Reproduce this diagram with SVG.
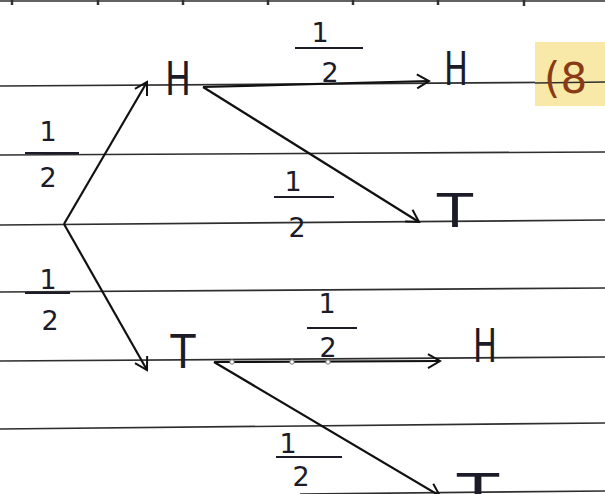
<svg xmlns="http://www.w3.org/2000/svg" width="605" height="494" viewBox="0 0 605 494">
<style>
.paper{stroke:#2e2e2e;stroke-width:1.7;fill:none}
.tick{stroke:#333;stroke-width:2.5}
.edge{stroke:#111;stroke-width:2.2;fill:none}
.lbl{font-family:"DejaVu Sans","Liberation Sans",sans-serif;fill:#1c1c28;text-anchor:middle}
.num{font-size:27px}
.node{font-size:46px}
.bar{stroke:#1c1c28;stroke-width:2}
</style>
<defs>
<marker id="arr" markerUnits="userSpaceOnUse" markerWidth="18" markerHeight="18" viewBox="0 0 18 18" refX="15" refY="9" orient="auto">
<path d="M3,2 L15,9 L3,16" fill="none" stroke="#111" stroke-width="2"/>
</marker>
</defs>
<rect width="605" height="494" fill="#ffffff"/>
<g id="paper">
<line class="paper" x1="0" y1="1" x2="605" y2="1"/>
<line class="tick" x1="12" y1="0" x2="12" y2="5"/>
<line class="tick" x1="98" y1="0" x2="98" y2="5"/>
<line class="tick" x1="183" y1="0" x2="183" y2="5"/>
<line class="tick" x1="268" y1="0" x2="268" y2="5"/>
<line class="tick" x1="353" y1="0" x2="353" y2="5"/>
<line class="tick" x1="438" y1="0" x2="438" y2="5"/>
<line class="tick" x1="524" y1="0" x2="524" y2="6"/>
<line class="paper" x1="0" y1="86" x2="605" y2="82"/>
<line class="paper" x1="0" y1="155" x2="605" y2="152"/>
<line class="paper" x1="0" y1="225" x2="605" y2="220"/>
<line class="paper" x1="0" y1="292" x2="605" y2="288"/>
<line class="paper" x1="0" y1="361" x2="605" y2="357"/>
<line class="paper" x1="0" y1="429" x2="605" y2="423"/>
<line class="paper" x1="300" y1="494" x2="605" y2="491"/>
</g>
<g id="connectors">
<path class="edge" d="M64,224 L147,82" marker-end="url(#arr)"/>
<path class="edge" d="M64,224 L147,370" marker-end="url(#arr)"/>
<path class="edge" d="M203,87 L429,81" marker-end="url(#arr)"/>
<path class="edge" d="M203,87 L419,222" marker-end="url(#arr)"/>
<path class="edge" d="M214,362 L440,361" marker-end="url(#arr)"/>
<path class="edge" d="M214,362 L440,496" marker-end="url(#arr)"/>
<g fill="#fff" stroke="#777" stroke-width="1">
<circle cx="232" cy="362" r="2.2"/>
<circle cx="292" cy="362" r="2.2"/>
<circle cx="328" cy="362" r="2.2"/>
</g>
</g>
<g id="edge-labels">
<g id="p-root-H"><text class="lbl num" x="48" y="141">1</text><line class="bar" x1="25" y1="153" x2="79" y2="153"/><text class="lbl num" x="48" y="187">2</text></g>
<g id="p-root-T"><text class="lbl num" x="48" y="289">1</text><line class="bar" x1="25" y1="293" x2="70" y2="293"/><text class="lbl num" x="50" y="330">2</text></g>
<g id="p-H-H"><text class="lbl num" x="320" y="42">1</text><line class="bar" x1="295" y1="48" x2="363" y2="48"/><text class="lbl num" x="330" y="82">2</text></g>
<g id="p-H-T"><text class="lbl num" x="293" y="191">1</text><line class="bar" x1="274" y1="197" x2="334" y2="197"/><text class="lbl num" x="297" y="237">2</text></g>
<g id="p-T-H"><text class="lbl num" x="327" y="313">1</text><line class="bar" x1="307" y1="328" x2="357" y2="328"/><text class="lbl num" x="328" y="357">2</text></g>
<g id="p-T-T"><text class="lbl num" x="288" y="453">1</text><line class="bar" x1="276" y1="457" x2="342" y2="457"/><text class="lbl num" x="301" y="486">2</text></g>
</g>
<g id="node-H1"><text class="lbl node" x="178" y="95" textLength="26" lengthAdjust="spacingAndGlyphs" fill="#1d1d3a">H</text></g>
<g id="node-H2"><text class="lbl node" x="456" y="85" textLength="24" lengthAdjust="spacingAndGlyphs">H</text></g>
<g id="node-T1"><text class="lbl node" x="455" y="227" textLength="36" lengthAdjust="spacingAndGlyphs">T</text></g>
<g id="node-T2"><text class="lbl node" x="183" y="368" textLength="25" lengthAdjust="spacingAndGlyphs">T</text></g>
<g id="node-H3"><text class="lbl node" x="485" y="362" textLength="24" lengthAdjust="spacingAndGlyphs">H</text></g>
<g id="node-T3"><text class="lbl node" x="478" y="507" textLength="42" lengthAdjust="spacingAndGlyphs">T</text></g>
<g id="note">
<rect x="535" y="42" width="70" height="64" fill="#f8e9a8"/>
<line class="paper" x1="535" y1="83" x2="605" y2="82"/>
<text x="544" y="93" font-family="DejaVu Sans, sans-serif" font-size="42" fill="#8a3b16">(8</text>
</g>
</svg>
